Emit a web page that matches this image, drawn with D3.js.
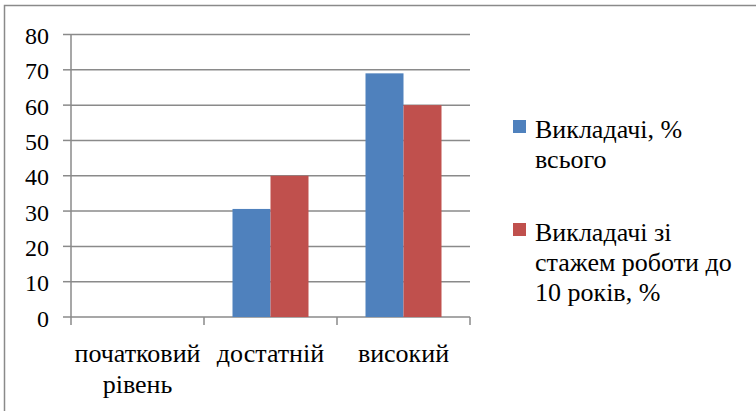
<!DOCTYPE html>
<html>
<head>
<meta charset="utf-8">
<script src="https://cdn.jsdelivr.net/npm/d3@7"></script>
<style>
  svg text, svg tspan { font-family: "Liberation Serif", "Times New Roman", Tinos, serif !important; }
</style>
</head>
<body style="margin:0">
<svg id="chart" width="756" height="411" style="font-family: 'Liberation Serif', serif"></svg>
<script>
// data (labels already split into their lines)
const categories = [["початковий", "рівень"], ["достатній"], ["високий"]];
const seriesNames = [["Викладачі, %", "всього"], ["Викладачі зі", "стажем роботи до", "10 років, %"]];
const allTeachers = [0, 30.6, 69];
const youngTeachers = [0, 40, 60];
const yTicks = [0, 10, 20, 30, 40, 50, 60, 70, 80];
const colors = ["#4F81BD", "#C0504D"];

const values = [allTeachers, youngTeachers];
const catKeys = categories.map(c => c.join(" "));
const seriesKeys = seriesNames.map(s => s.join(" "));
const serif = '"Liberation Serif", Tinos, serif';

const margin = { top: 34.5, left: 71 };
const width = 399;
const height = 282.5;

const svg = d3.select("#chart");

// outer frame (right and bottom edges fall outside the picture)
svg.append("rect")
  .attr("x", 4.5).attr("y", 5.5)
  .attr("width", 800).attr("height", 500)
  .attr("fill", "none")
  .attr("stroke", "#8a8a8a")
  .attr("stroke-width", 1.5);

const g = svg.append("g")
  .attr("transform", `translate(${margin.left}, ${margin.top})`);

const x = d3.scaleBand().domain(catKeys).range([0, width]).padding(0);
const xSub = d3.scaleBand().domain(seriesKeys)
  .range([28.5, x.bandwidth() - 28.5]).padding(0);
const y = d3.scaleLinear().domain([0, 80]).range([height, 0]);

// gridlines
g.append("g").attr("class", "grid")
  .selectAll("line")
  .data(yTicks)
  .enter()
  .append("line")
  .attr("x1", 0).attr("x2", width)
  .attr("y1", d => y(d)).attr("y2", d => y(d))
  .attr("stroke", "#8a8a8a")
  .attr("stroke-width", 1.5);

// y axis labels and ticks
yTicks.forEach(v => {
  g.append("line")
    .attr("x1", -8).attr("x2", 0)
    .attr("y1", y(v)).attr("y2", y(v))
    .attr("stroke", "#8a8a8a").attr("stroke-width", 1.5);
  g.append("text")
    .attr("x", -22)
    .attr("y", y(v))
    .attr("dy", "0.4em")
    .attr("text-anchor", "end")
    .attr("font-size", 24)
    .style("font-family", serif)
    .text(v);
});

// vertical axis line
g.append("line")
  .attr("x1", 0).attr("x2", 0)
  .attr("y1", 0).attr("y2", height)
  .attr("stroke", "#8a8a8a").attr("stroke-width", 1.5);

// category boundary ticks
const bounds = catKeys.map(c => x(c)).concat([width]);
g.append("g").selectAll("line")
  .data(bounds)
  .enter()
  .append("line")
  .attr("x1", d => d).attr("x2", d => d)
  .attr("y1", height).attr("y2", height + 8)
  .attr("stroke", "#8a8a8a").attr("stroke-width", 1.5);

// bars
seriesKeys.forEach((s, si) => {
  g.append("g")
    .selectAll("rect")
    .data(catKeys)
    .enter()
    .append("rect")
    .attr("x", c => x(c) + xSub(s))
    .attr("y", (c, i) => y(values[si][i]))
    .attr("width", xSub.bandwidth())
    .attr("height", (c, i) => height - y(values[si][i]))
    .attr("fill", colors[si]);
});

// category labels
categories.forEach((lines, ci) => {
  lines.forEach((line, li) => {
    g.append("text")
      .attr("x", x(catKeys[ci]) + x.bandwidth() / 2)
      .attr("y", height + 45 + li * 31)
      .attr("text-anchor", "middle")
      .attr("font-size", 26)
      .style("font-family", serif)
      .text(line);
  });
});

// legend
const legendY = [120, 223];
seriesNames.forEach((lines, i) => {
  svg.append("rect")
    .attr("x", 513).attr("y", legendY[i])
    .attr("width", 13).attr("height", 13)
    .attr("fill", colors[i]);
  lines.forEach((line, li) => {
    svg.append("text")
      .attr("x", 535)
      .attr("y", legendY[i] + 18 + li * 30)
      .attr("font-size", 26)
      .style("font-family", serif)
      .text(line);
  });
});
</script>
</body>
</html>
